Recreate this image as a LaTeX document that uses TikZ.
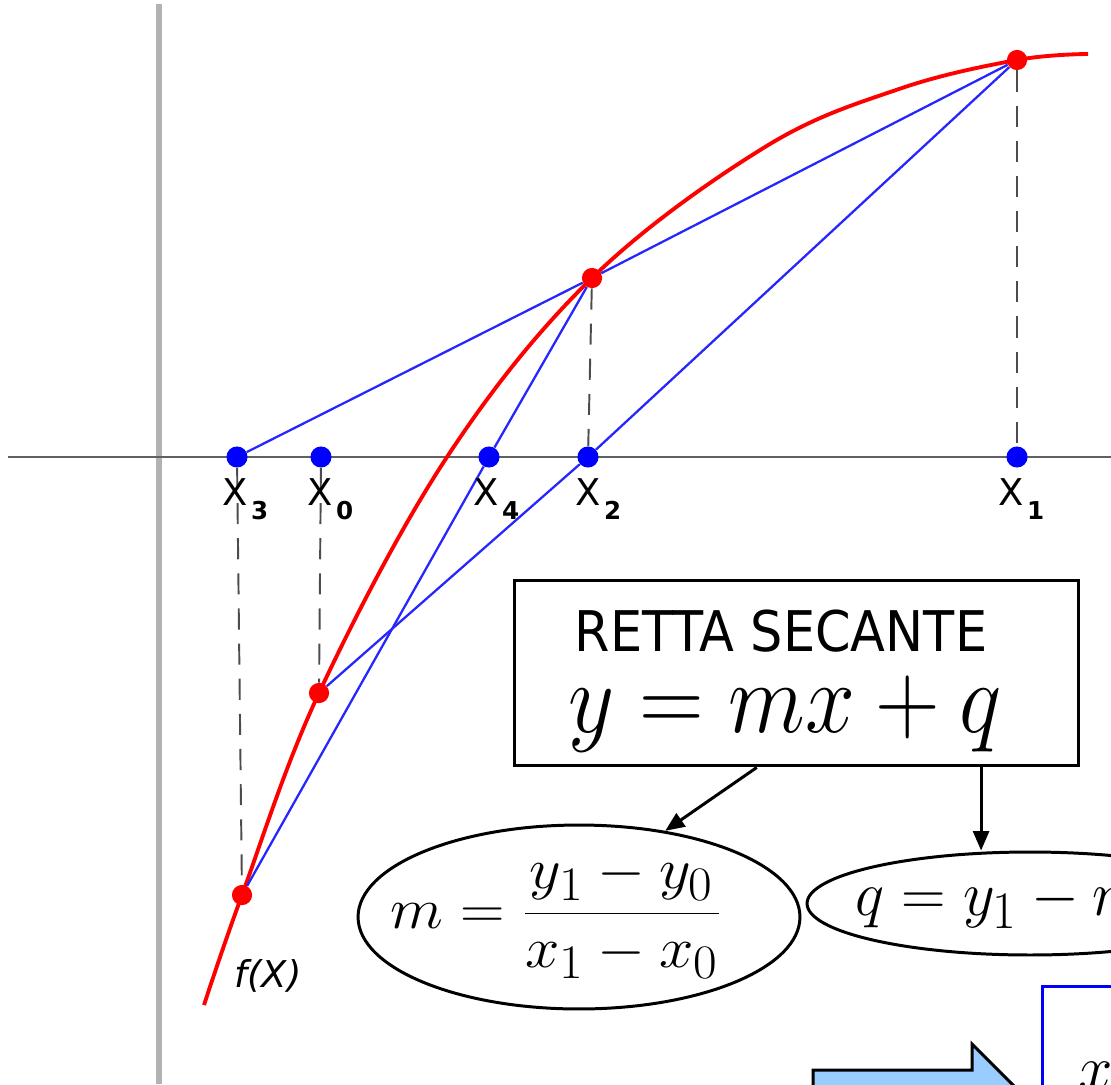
\documentclass[tikz,border=0pt]{standalone}
\usepackage{fontspec}
\setmainfont{DejaVu Sans}
\usetikzlibrary{arrows.meta,shapes.geometric,calc}

\definecolor{freccia}{HTML}{99CCFF}
\tikzset{
  bdot/.style={circle,fill=blue,inner sep=0pt,minimum size=12pt},
  rdot/.style={circle,fill=red,inner sep=0pt,minimum size=11.5pt},
  secline/.style={blue!85!white,line width=1.3pt},
  drop/.style={black!70,line width=1.1pt,dash pattern=on 12pt off 8pt},
  xlab/.style={anchor=base west,inner sep=0pt,font=\fontsize{21}{21}\selectfont},
  arr/.style={line width=1.7pt,-{Triangle[length=11pt,width=9pt]}},
  formula/.style={ellipse,draw,line width=1.7pt,inner sep=-60pt},
}
\newcommand{\xsub}[1]{X\kern2pt\raisebox{-8.5pt}{\fontsize{14}{14}\selectfont\bfseries #1}}
% big math from the 24.88pt design size
\newcommand{\bigmath}[3]{\scalebox{#1}[#2]{\Huge$#3$}}

\begin{document}
\begin{tikzpicture}[x=0.02cm,y=-0.02cm]
  \useasboundingbox (0,0) rectangle (1111,1084);
  \clip (0,0) rectangle (1111,1084);
  % axes
  \draw[black!30,line width=3.4pt] (159,4) -- (159,1084);
  \draw[black!62,line width=1.7pt] (8,457) -- (1111,457);
  % f(x)
  \draw[red,line width=2.2pt] plot[smooth,tension=0.6] coordinates {
    (204,1005) (242,895) (319,693) (447,457) (592,278) (765,147) (899,89)
    (1017,60) (1088,54)};
  % nodes
  \node[bdot] (x3) at (237,457) {};
  \node[bdot] (x0) at (321,457) {};
  \node[bdot] (x4) at (489,457) {};
  \node[bdot] (x2) at (588,457) {};
  \node[bdot] (x1) at (1017,457) {};
  \node[rdot] (f1) at (1017,60) {};
  \node[rdot] (f2) at (592,278) {};
  \node[rdot] (f0) at (319,693) {};
  \node[rdot] (f3) at (242,895) {};
  % secants
  \draw[secline] (x3) -- (f2) -- (f1);
  \draw[secline] (f0) -- (x2) -- (f1);
  \draw[secline] (f3) -- (x4) -- (f2);
  % drop lines
  \draw[drop] (f1) -- (x1);
  \draw[drop] (f2) -- (x2);
  \draw[drop] (x0) -- (f0);
  \draw[drop] (x3) -- (f3);
  % labels
  \node[xlab] (l3) at (222,505) {\xsub{3}};
  \node[xlab] (l0) at (307,505) {\xsub{0}};
  \node[xlab] (l4) at (473,505) {\xsub{4}};
  \node[xlab] (l2) at (575,505) {\xsub{2}};
  \node[xlab] (l1) at (998,505) {\xsub{1}};
  \node[font=\fontsize{21}{21}\selectfont\itshape] (fx) at (268,976) {f(X)};
  % secant box
  \node[draw,line width=1.7pt,minimum width=11.3cm,minimum height=3.72cm] (secante) at (796.5,673) {};
  \node[inner sep=0pt,font=\fontsize{29}{29}\selectfont] (titolo) at (781,631) {\scalebox{1}[1.1]{RETTA SECANTE}};
  \node[inner sep=0pt] (retta) at (785,714) {\bigmath{2.05}{2.3}{y=mx+q}};
  % m and q
  \node[formula,minimum width=8.84cm,minimum height=3.68cm] (pendenza) at (579,917)
    {\bigmath{1.41}{1.32}{m=\displaystyle\frac{y_1-y_0}{x_1-x_0}}\rule{26pt}{0pt}};
  \node[formula,minimum width=8.92cm,minimum height=2.06cm] (intercetta) at (1030,903.5)
    {\bigmath{1.41}{1.45}{q=y_1-mx_1}};
  \draw[arr] ($(secante.south west)!0.43!(secante.south east)$) -- (pendenza.45);
  \coordinate (s2) at ($(secante.south west)!0.825!(secante.south east)$);
  \draw[arr] (s2) -- (s2 |- intercetta.north);
  % next step
  \draw[line width=1.7pt,fill=freccia] (813,1070) -- (972,1070) -- (972,1044) -- (1028,1100)
    -- (972,1156) -- (972,1130) -- (813,1130) -- cycle;
  \node[draw=blue,line width=1.7pt,anchor=north west,minimum width=4cm,minimum height=4cm] (passo) at (1041,985) {};
  \node[anchor=north west,inner sep=0pt] (xnew) at (1078,1062) {\bigmath{1.41}{1.45}{x}};
\end{tikzpicture}
\end{document}
